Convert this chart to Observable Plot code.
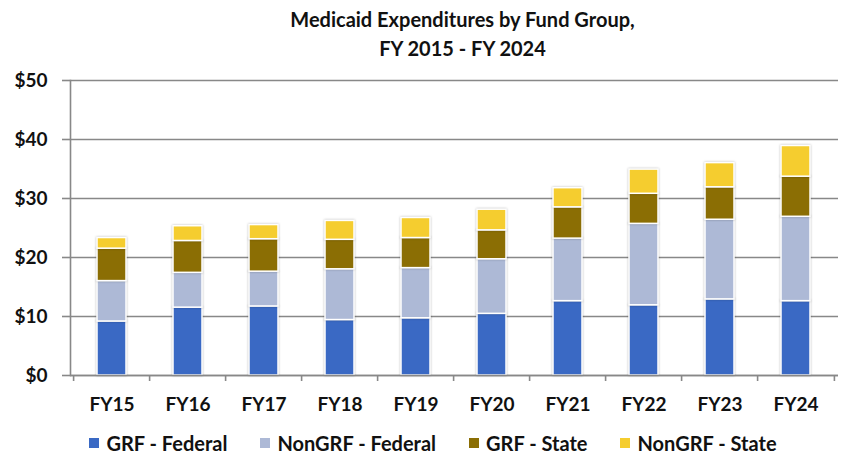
<!DOCTYPE html>
<html>
<head>
<meta charset="utf-8">
<script src="https://cdn.jsdelivr.net/npm/d3@7"></script>
<script src="https://cdn.jsdelivr.net/npm/@observablehq/plot@0.6"></script>
<style>
  body { margin: 0; background: #fff; width: 841px; font-family: Lato, sans-serif; color: #111; }
  #title { padding-top: 5px; padding-left: 84px; text-align: center; font-weight: 700; font-size: 20px; line-height: 29px; height: 59px; box-sizing: border-box; }
  #legend { display: flex; justify-content: center; align-items: center; gap: 33px; padding-left: 25px; height: 43px; box-sizing: border-box; padding-top: 2px; font-weight: 700; font-size: 20px; }
  .item { display: flex; align-items: center; gap: 7px; }
  .sw { width: 10px; height: 10px; display: inline-block; }
  svg g[aria-label="bar"] rect { filter: drop-shadow(0 0 1.2px rgba(0,0,0,0.28)); }
</style>
</head>
<body>
<div id="title">Medicaid Expenditures by Fund Group,<br>FY 2015 - FY 2024</div>
<div id="chart"></div>
<div id="legend"></div>
<script>
const years = ["FY15","FY16","FY17","FY18","FY19","FY20","FY21","FY22","FY23","FY24"];
const seriesNames = ["GRF - Federal","NonGRF - Federal","GRF - State","NonGRF - State"];
const seriesColors = ["#3A69C4","#ADB9D6","#8B6E04","#F5CD2F"];
const grfFederal    = [9.15, 11.5, 11.7, 9.4, 9.7, 10.45, 12.6, 11.9, 12.9, 12.6];
const nonGrfFederal = [6.85, 5.9, 5.9, 8.6, 8.5, 9.25, 10.6, 13.8, 13.5, 14.3];
const grfState      = [5.5, 5.4, 5.5, 5.0, 5.1, 4.9, 5.3, 5.1, 5.5, 6.8];
const nonGrfState   = [1.8, 2.5, 2.4, 3.2, 3.4, 3.5, 3.25, 4.1, 4.1, 5.2];
const yTicks = [0, 10, 20, 30, 40, 50];

const seriesValues = [grfFederal, nonGrfFederal, grfState, nonGrfState];
const data = [];
seriesNames.forEach((s, si) => years.forEach((yr, i) => data.push({year: yr, series: s, value: seriesValues[si][i]})));

const W = 841, mL = 70, mR = 3;
const step = (W - mL - mR) / years.length;
const grid = "#888888";

const chart = Plot.plot({
  width: W,
  height: 361,
  marginTop: 21,
  marginBottom: 45,
  marginLeft: mL,
  marginRight: mR,
  style: {fontFamily: "Lato, sans-serif", fontWeight: "700", fontSize: "19px", color: "#111", background: "#fff"},
  x: {domain: years, paddingInner: 0.615, paddingOuter: 0.3075, label: null},
  y: {domain: [0, 50], label: null},
  color: {domain: seriesNames, range: seriesColors},
  marks: [
    Plot.gridY(yTicks, {stroke: grid, strokeOpacity: 1, strokeWidth: 1.6}),
    Plot.frame({anchor: "left", stroke: grid, strokeWidth: 1.6}),
    Plot.axisY(yTicks, {tickSize: 8, tickPadding: 15, stroke: grid, strokeWidth: 1.6, tickFormat: d => "$" + d, label: null}),
    Plot.barY(data, Plot.stackY({order: seriesNames, x: "year", y: "value", fill: "series", stroke: "#fff", strokeWidth: 1.5})),
    Plot.ruleY([0], {stroke: grid, strokeWidth: 1.6}),
    Plot.axisX(years, {tickSize: 6, text: null, dx: -step / 2, stroke: grid, strokeWidth: 1.6, label: null}),
    Plot.axisX([years[years.length - 1]], {tickSize: 6, text: null, dx: step / 2, stroke: grid, strokeWidth: 1.6, label: null}),
    Plot.axisX(years, {tickSize: 0, tickPadding: 22, label: null, fontSize: 19})
  ]
});
document.getElementById("chart").appendChild(chart);

const legend = document.getElementById("legend");
seriesNames.forEach((s, i) => {
  const it = document.createElement("div");
  it.className = "item";
  it.innerHTML = `<span class="sw" style="background:${seriesColors[i]}"></span><span>${s}</span>`;
  legend.appendChild(it);
});
</script>
</body>
</html>
